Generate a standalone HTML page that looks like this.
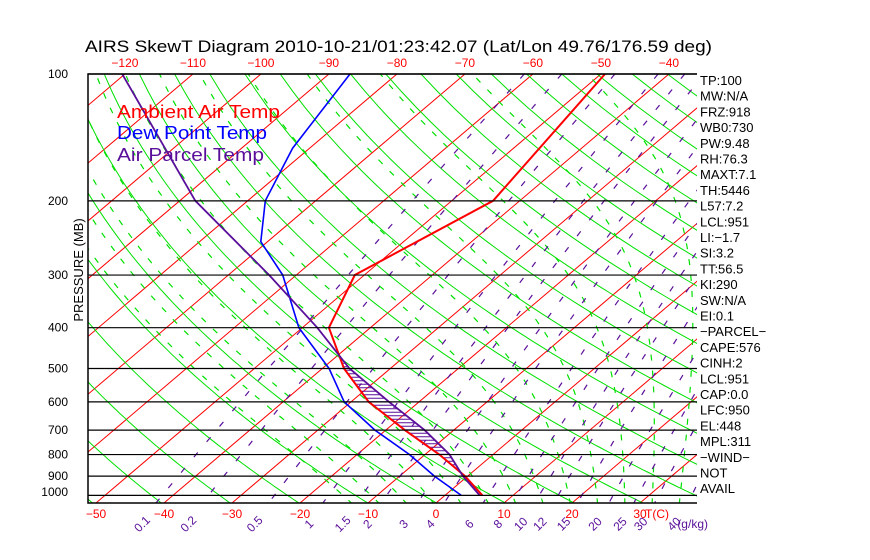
<!DOCTYPE html>
<html><head><meta charset="utf-8"><style>
html,body{margin:0;padding:0;background:#fff;}
svg{display:block;font-family:"Liberation Sans",sans-serif;}
</style></head><body>
<svg id="chart" width="870" height="560" viewBox="0 0 870 560">
<defs><clipPath id="plotclip"><rect x="88" y="74" width="609" height="429"/></clipPath></defs>
<text x="85" y="52" font-size="17" fill="#000" textLength="627" lengthAdjust="spacingAndGlyphs">AIRS SkewT Diagram 2010-10-21/01:23:42.07 (Lat/Lon 49.76/176.59 deg)</text>
<g id="grid" clip-path="url(#plotclip)"></g>
<g id="series" clip-path="url(#plotclip)"></g>
<g id="axes"></g>
<g font-size="18">
<text x="117" y="118" fill="#ff0000" textLength="163" lengthAdjust="spacingAndGlyphs">Ambient Air Temp</text>
<text x="117" y="139" fill="#0000ff" textLength="150" lengthAdjust="spacingAndGlyphs">Dew Point Temp</text>
<text x="117" y="161" fill="#5a0f9a" textLength="147" lengthAdjust="spacingAndGlyphs">Air Parcel Temp</text>
</g>
<text transform="translate(83,270) rotate(-90)" text-anchor="middle" font-size="13">PRESSURE (MB)</text>
<g id="stats" font-size="13"></g>
</svg>
<script>
// data
const pressures = [100,200,300,400,500,600,700,800,900,1000];
const ambientT = [-49.4,-43.9,-51.4,-46.1,-36.8,-27.4,-17.2,-7.9,-0.4,5.5];
const dewP = [100,150,200,250,300,400,500,600,700,800,900,1000];
const dewT = [-86.9,-82.5,-77.4,-71,-62,-50.5,-39,-31,-21.6,-12.3,-4.9,2.4];
const parcelT = [-120.4,-87.7,-64,-47.8,-36,-24.4,-14.3,-6.4,-0.7,5.1];
const pressureTicks = [100,200,300,400,500,600,700,800,900,1000];
const bottomTempTicks = [-50,-40,-30,-20,-10,0,10,20,30];
const topTempTicks = [-120,-110,-100,-90,-80,-70,-60,-50,-40];
const mixRatios = [0.1,0.2,0.5,1,1.5,2,3,4,6,8,10,12,15,20,25,30,40];
const mixLabels = ["0.1","0.2","0.5","1","1.5","2","3","4","6","8","10","12","15","20","25","30","40"];
const statLabels = ["TP:100","MW:N/A","FRZ:918","WB0:730","PW:9.48","RH:76.3","MAXT:7.1","TH:5446","L57:7.2","LCL:951","LI:\u22121.7","SI:3.2","TT:56.5","KI:290","SW:N/A","EI:0.1","\u2212PARCEL\u2212","CAPE:576","CINH:2","LCL:951","CAP:0.0","LFC:950","EL:448","MPL:311","\u2212WIND\u2212","NOT","AVAIL"];

const NS="http://www.w3.org/2000/svg";
const X0=436, SK=1.177, KT=6.8, YB=503, YT=74, KP=183, XL=88, XR=697;
function py(p){return YT+KP*Math.log(p/100);}
function tx(T,y){return X0+KT*T+SK*(YB-y);}
function mk(tag,attrs,parent){const e=document.createElementNS(NS,tag);for(const k in attrs)e.setAttribute(k,attrs[k]);parent.appendChild(e);return e;}
const grid=document.getElementById('grid'),series=document.getElementById('series'),axes=document.getElementById('axes'),stats=document.getElementById('stats');
function pathFrom(ps,Ts){return ps.map((p,i)=>{const y=py(p);return (i?'L':'M')+tx(Ts[i],y).toFixed(1)+' '+y.toFixed(1);}).join(' ');}
const pLevels=[];for(let p=90;p<=1060;p+=10)pLevels.push(p);

for(let T=-170;T<=50;T+=10){
  const y1=YB+5,y2=YT-5;
  const l=mk('line',{x1:tx(T,y1),y1:y1,x2:tx(T,y2),y2:y2,stroke:'#ff0000','stroke-width':1},grid);
  
  
}
for(let th=200;th<=480;th+=10){
  const Ts=pLevels.map(p=>th*Math.pow(p/1000,0.286)-273.15);
  const e=mk('path',{d:pathFrom(pLevels,Ts),fill:'none',stroke:'#00e000','stroke-width':1},grid);
  
  
}
function es(T){return 6.112*Math.exp(17.67*T/(T+243.5));}
for(let T0=-12;T0<=44;T0+=4){
  const ps=[],Ts=[];let T=T0+273.15;
  for(let p=1050;p>=90;p-=5){
    ps.push(p);Ts.push(T-273.15);
    const rs=0.622*es(T-273.15)/(p-es(T-273.15));
    const dTdp=(287*T+2.5e6*rs)/(1004+2.5e6*2.5e6*rs*0.622/(287*T*T))/p;
    T-=dTdp*5;
  }
  const e=mk('path',{d:pathFrom(ps,Ts),fill:'none',stroke:'#00e000','stroke-width':1.2,'stroke-dasharray':'6,10'},grid);
  
  
}
function tdw(w,p){const e=w*p/(622+w);const a=Math.log(e/6.112);return 243.5*a/(17.67-a);}
mixRatios.forEach((w,i)=>{
  const ps=pLevels.filter(p=>p>=100);
  const Ts=ps.map(p=>tdw(w,p));
  const e=mk('path',{d:pathFrom(ps,Ts),fill:'none',stroke:'#5a0f9a','stroke-width':1.2,'stroke-dasharray':'6,14'},grid);
  
  
  const x=tx(tdw(w,1045),YB)-14;
  const t=mk('text',{x:x,y:528,fill:'#5a0f9a','font-size':12,'text-anchor':'middle',transform:`rotate(-45 ${x} 524)`},axes);
  t.textContent=mixLabels[i];
  
  
});
pressureTicks.forEach(p=>{
  const y=py(p);
  const l=mk('line',{x1:XL,y1:y,x2:XR,y2:y,stroke:'#000','stroke-width':1.2},axes);
  
  
  const t=mk('text',{x:68,y:Math.min(y+4,496),'font-size':12,'text-anchor':'end'},axes);
  t.textContent=p;
  
  
});
function interp(ps,Ts,p){for(let i=0;i<ps.length-1;i++){if(p>=ps[i]&&p<=ps[i+1]){const f=Math.log(p/ps[i])/Math.log(ps[i+1]/ps[i]);return Ts[i]+f*(Ts[i+1]-Ts[i]);}}return Ts[Ts.length-1];}
for(let y=py(450);y<=py(960);y+=3.5){
  const p=100*Math.exp((y-YT)/KP);
  const xa=tx(interp(pressures,ambientT,p),y),xp=tx(interp(pressures,parcelT,p),y);
  if(xp>xa){const l=mk('line',{x1:xa,y1:y,x2:xp,y2:y,stroke:'#5a0f9a','stroke-width':1},series);
  
  }
}
const amb=mk('path',{d:pathFrom(pressures,ambientT),fill:'none',stroke:'#ff0000','stroke-width':2},series);


const dew=mk('path',{d:pathFrom(dewP,dewT),fill:'none',stroke:'#0000ff','stroke-width':1.6},series);


const par=mk('path',{d:pathFrom(pressures,parcelT),fill:'none',stroke:'#5a0f9a','stroke-width':1.8},series);


const fr=mk('path',{d:`M${XR} ${YT} L${XL} ${YT} L${XL} ${YB} L${XR} ${YB}`,fill:'none',stroke:'#000','stroke-width':1.5},axes);


bottomTempTicks.forEach(T=>{
  const t=mk('text',{x:tx(T,YB),y:518,fill:'#ff0000','font-size':12,'text-anchor':'middle'},axes);
  t.textContent=T<0?'\u2212'+(-T):T;
  
  
});
const tc=mk('text',{x:657,y:518,fill:'#ff0000','font-size':12,'text-anchor':'middle'},axes);
tc.textContent='T(C)';


const wg=mk('text',{x:708,y:528,fill:'#5a0f9a','font-size':12,'text-anchor':'end'},axes);
wg.textContent='(g/kg)';


topTempTicks.forEach(T=>{
  const t=mk('text',{x:tx(T,YT),y:67,fill:'#ff0000','font-size':12,'text-anchor':'middle'},axes);
  t.textContent='\u2212'+(-T);
  
  
});
statLabels.forEach((s,i)=>{
  const t=mk('text',{x:700,y:85+i*15.7},stats);
  t.textContent=s;
  
  
});
</script>
</body></html>
